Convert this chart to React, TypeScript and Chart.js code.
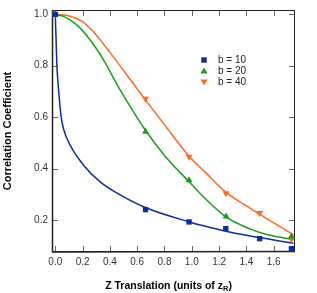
import React, { useEffect, useRef } from 'react';
import { Chart, registerables } from 'chart.js';

Chart.register(...registerables);

// Axis ticks
const xTicks = [0, 0.2, 0.4, 0.6, 0.8, 1.0, 1.2, 1.4, 1.6];
const yTicks = [0.2, 0.4, 0.6, 0.8, 1.0];

const seriesLabels = ['b = 10', 'b = 20', 'b = 40'];
const colors = ['#0d2d9e', '#1c9c1c', '#ff6a1f'];

// Fitted curves
const fitX10 = [0, 0.003, 0.006, 0.012, 0.027, 0.042, 0.06, 0.11, 0.207, 0.329, 0.45, 0.66, 0.975, 1.1, 1.3, 1.5, 1.745];
const fitY10 = [1.0, 0.95, 0.9, 0.8, 0.69, 0.605, 0.555, 0.49, 0.413, 0.348, 0.305, 0.248, 0.193, 0.175, 0.15, 0.131, 0.109];

const fitX20 = [0, 0.061, 0.159, 0.256, 0.353, 0.473, 0.658, 0.805, 0.975, 1.1, 1.244, 1.426, 1.549, 1.745];
const fitY20 = [1.0, 0.992, 0.958, 0.9, 0.823, 0.708, 0.551, 0.448, 0.351, 0.282, 0.214, 0.165, 0.143, 0.123];

const fitX40 = [0, 0.11, 0.2, 0.3, 0.4, 0.6, 0.658, 0.805, 0.975, 1.1, 1.244, 1.426, 1.549, 1.745];
const fitY40 = [1.0, 0.993, 0.972, 0.92, 0.852, 0.71, 0.669, 0.567, 0.451, 0.385, 0.31, 0.246, 0.205, 0.142];

// Measured points
const measX10 = [0, 0.661, 0.98, 1.249, 1.497, 1.73];
const measY10 = [1.0, 0.24, 0.192, 0.166, 0.127, 0.088];
const measX20 = [0, 0.661, 0.98, 1.251, 1.73];
const measY20 = [1.0, 0.543, 0.354, 0.213, 0.135];
const measX40 = [0, 0.661, 0.98, 1.251, 1.497, 1.73];
const measY40 = [1.0, 0.672, 0.446, 0.304, 0.227, 0.125];

const xTitleMain = 'Z Translation (units of z';
const xTitleSub = 'R';
const xTitleEnd = ')';
const yTitle = 'Correlation Coefficient';

const FONT = '"Liberation Sans", Arial, Helvetica, sans-serif';

const zip = (xs: number[], ys: number[]) => xs.map((x, i) => ({ x, y: ys[i] }));

const decorPlugin = {
  id: 'decor',
  beforeDatasetsDraw(chart: any) {
    const { ctx, chartArea: a, scales } = chart;
    const xs = scales.x;
    const ys = scales.y;
    ctx.save();
    ctx.strokeStyle = '#666';
    ctx.lineWidth = 1;
    ctx.beginPath();
    for (const v of xTicks) {
      const px = Math.round(xs.getPixelForValue(v)) + 0.5;
      ctx.moveTo(px, a.bottom);
      ctx.lineTo(px, a.bottom - 6);
      ctx.moveTo(px, a.top);
      ctx.lineTo(px, a.top + 6);
    }
    for (const v of yTicks) {
      const py = Math.round(ys.getPixelForValue(v)) + 0.5;
      ctx.moveTo(a.left, py);
      ctx.lineTo(a.left + 6, py);
      ctx.moveTo(a.right, py);
      ctx.lineTo(a.right - 6, py);
    }
    ctx.stroke();
    ctx.strokeStyle = '#222';
    ctx.lineWidth = 1;
    ctx.strokeRect(a.left + 0.5, a.top + 0.5, a.right - a.left - 1, a.bottom - a.top - 1);
    ctx.lineWidth = 1.5;
    ctx.beginPath();
    ctx.moveTo(a.left + 0.5, a.top);
    ctx.lineTo(a.left + 0.5, a.bottom);
    ctx.lineTo(a.right, a.bottom - 0.5);
    ctx.stroke();
    ctx.restore();
  },
  afterDraw(chart: any) {
    const { ctx, chartArea: a } = chart;
    ctx.save();
    // legend
    const lx = a.left + 152;
    const ly = a.top + 50;
    ctx.font = `10px ${FONT}`;
    ctx.textBaseline = 'middle';
    ctx.textAlign = 'left';
    seriesLabels.forEach((lab, i) => {
      const y = ly + i * 11;
      ctx.fillStyle = colors[i];
      ctx.beginPath();
      if (i === 0) {
        ctx.rect(lx - 2.7, y - 2.7, 5.4, 5.4);
      } else if (i === 1) {
        ctx.moveTo(lx, y - 3.6);
        ctx.lineTo(lx + 3.6, y + 2.6);
        ctx.lineTo(lx - 3.6, y + 2.6);
        ctx.closePath();
      } else {
        ctx.moveTo(lx, y + 3.6);
        ctx.lineTo(lx + 3.6, y - 2.6);
        ctx.lineTo(lx - 3.6, y - 2.6);
        ctx.closePath();
      }
      ctx.fill();
      ctx.fillStyle = '#222';
      ctx.fillText(lab, lx + 14, y + 0.5);
    });
    // x title with subscript
    const mainFont = `bold 10.5px ${FONT}`;
    const subFont = `bold 7.5px ${FONT}`;
    ctx.font = mainFont;
    const w1 = ctx.measureText(xTitleMain).width;
    const w3 = ctx.measureText(xTitleEnd).width;
    ctx.font = subFont;
    const w2 = ctx.measureText(xTitleSub).width;
    const total = w1 + w2 + w3;
    const cx = (a.left + a.right) / 2 - 5;
    const ty = 286;
    const x0 = cx - total / 2;
    ctx.fillStyle = '#000';
    ctx.textAlign = 'left';
    ctx.textBaseline = 'middle';
    ctx.font = mainFont;
    ctx.fillText(xTitleMain, x0, ty);
    ctx.font = subFont;
    ctx.fillText(xTitleSub, x0 + w1, ty + 3);
    ctx.font = mainFont;
    ctx.fillText(xTitleEnd, x0 + w1 + w2, ty);
    ctx.restore();
  },
};

export default function App() {
  const ref = useRef<HTMLCanvasElement | null>(null);
  useEffect(() => {
    if (!ref.current) return;
    const curve = (xs: number[], ys: number[], c: string) => ({
      data: zip(xs, ys),
      showLine: true,
      borderColor: c,
      borderWidth: 1.5,
      pointRadius: 0,
      cubicInterpolationMode: 'monotone',
      fill: false,
      order: 2,
    });
    const marks = (xs: number[], ys: number[], c: string, style: string, rot: number, r: number) => ({
      data: zip(xs, ys),
      showLine: false,
      backgroundColor: c,
      borderColor: c,
      borderWidth: 0,
      pointStyle: style,
      pointRotation: rot,
      pointRadius: r,
      clip: false,
      order: 1,
    });
    const chart = new Chart(ref.current, {
      type: 'scatter',
      data: {
        datasets: [
          curve(fitX10, fitY10, colors[0]),
          curve(fitX20, fitY20, colors[1]),
          curve(fitX40, fitY40, colors[2]),
          marks(measX10, measY10, colors[0], 'rect', 0, 3.8),
          marks(measX20, measY20, colors[1], 'triangle', 0, 4),
          marks(measX40, measY40, colors[2], 'triangle', 180, 4),
        ] as any,
      },
      plugins: [decorPlugin],
      options: {
        animation: false,
        responsive: false,
        layout: { padding: { top: 8, right: 22, left: 0, bottom: 0 } },
        plugins: { legend: { display: false }, tooltip: { enabled: false } },
        scales: {
          x: {
            type: 'linear',
            min: -0.024,
            max: 1.756,
            grid: { display: false, drawTicks: false },
            border: { display: false },
            afterBuildTicks: (s: any) => {
              s.ticks = xTicks.map((v) => ({ value: v }));
            },
            afterFit: (s: any) => {
              s.height = 41;
            },
            ticks: {
              padding: 4,
              color: '#333',
              font: { family: FONT, size: 10 },
              callback: (v: any) => Number(v).toFixed(1),
            },
          },
          y: {
            type: 'linear',
            min: 0.075,
            max: 1.017,
            grid: { display: false, drawTicks: false },
            border: { display: false },
            afterBuildTicks: (s: any) => {
              s.ticks = yTicks.map((v) => ({ value: v }));
            },
            afterFit: (s: any) => {
              s.width = 52;
            },
            ticks: {
              padding: 4,
              color: '#333',
              font: { family: FONT, size: 10 },
              callback: (v: any) => Number(v).toFixed(1),
            },
            title: {
              display: true,
              text: yTitle,
              color: '#000',
              font: { family: FONT, size: 11, weight: 'bold' },
              padding: { top: 1, bottom: 0 },
            },
          },
        },
      } as any,
    });
    return () => chart.destroy();
  }, []);
  return (
    <div style={{ position: 'absolute', left: 0, top: 0, width: 317, height: 293, background: '#fff' }}>
      <canvas ref={ref} width={317} height={293} style={{ display: 'block' }} />
    </div>
  );
}
